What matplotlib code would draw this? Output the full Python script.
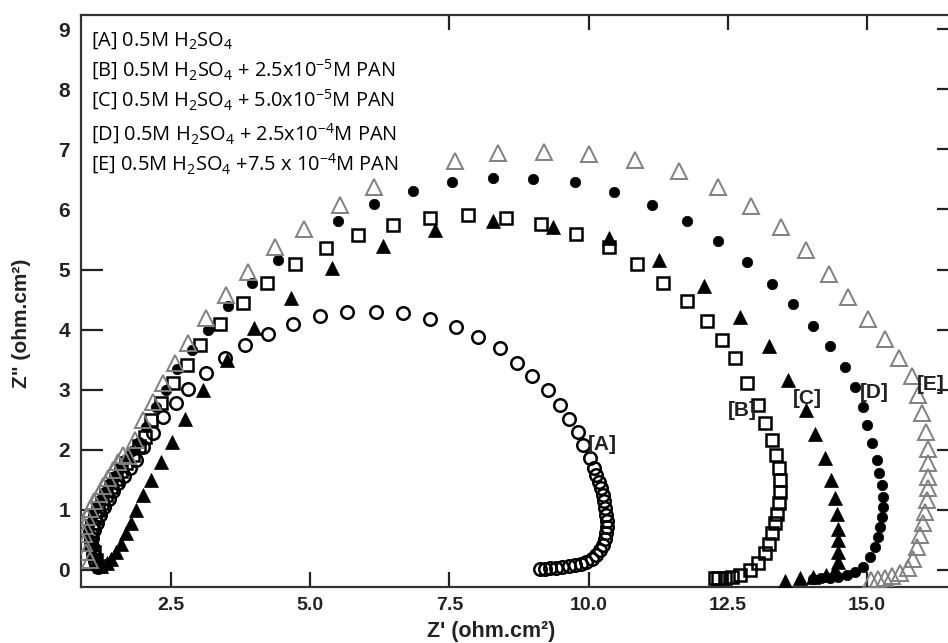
import matplotlib
matplotlib.use("Agg")
import matplotlib.pyplot as plt
from matplotlib.patches import Rectangle

plt.rcParams["mathtext.fontset"] = "custom"
plt.rcParams["mathtext.rm"] = "Open Sans"
plt.rcParams["mathtext.it"] = "Open Sans:italic"
plt.rcParams["mathtext.bf"] = "Open Sans:bold"

# Nyquist data, Z' (ohm.cm2) vs Z'' (ohm.cm2)
a_re = [1.19, 1.14, 1.10, 1.08, 1.09, 1.12, 1.17, 1.23, 1.30, 1.38, 1.46, 1.55, 1.65, 1.76,
        1.88, 2.00, 2.18, 2.36, 2.59, 2.81, 3.13, 3.47, 3.83, 4.25, 4.70, 5.18, 5.67, 6.18,
        6.67, 7.15, 7.62, 8.02, 8.40, 8.71, 8.99, 9.27, 9.49, 9.65, 9.80, 9.90, 10.02, 10.09,
        10.14, 10.18, 10.22, 10.25, 10.28, 10.30, 10.32, 10.33, 10.33, 10.32, 10.30, 10.26,
        10.21, 10.14, 10.06, 9.96, 9.86, 9.75, 9.64, 9.53, 9.42, 9.31, 9.21, 9.12]
a_im = [0.05, 0.15, 0.27, 0.40, 0.53, 0.66, 0.79, 0.92, 1.05, 1.18, 1.31, 1.44, 1.57, 1.70,
        1.83, 2.05, 2.28, 2.54, 2.78, 3.02, 3.28, 3.52, 3.74, 3.93, 4.09, 4.23, 4.30, 4.30,
        4.27, 4.17, 4.04, 3.87, 3.69, 3.44, 3.22, 3.00, 2.75, 2.52, 2.30, 2.08, 1.86, 1.70,
        1.58, 1.47, 1.36, 1.25, 1.14, 1.03, 0.92, 0.82, 0.72, 0.62, 0.52, 0.42,
        0.33, 0.25, 0.18, 0.13, 0.10, 0.08, 0.06, 0.05, 0.04, 0.03, 0.02, 0.01]

b_re = [1.22, 1.16, 1.11, 1.07, 1.06, 1.08, 1.13, 1.19, 1.26, 1.34, 1.42, 1.51, 1.60, 1.70,
        1.81, 1.92, 2.03, 2.15, 2.33, 2.54, 2.78, 3.02, 3.38, 3.80, 4.23, 4.73, 5.28, 5.86,
        6.49, 7.15, 7.84, 8.52, 9.14, 9.77, 10.37, 10.86, 11.34, 11.76, 12.12, 12.39, 12.63,
        12.84, 13.04, 13.17, 13.29, 13.37, 13.42, 13.43, 13.43, 13.42, 13.39, 13.35, 13.30,
        13.24, 13.17, 13.04, 12.90, 12.72, 12.58, 12.45, 12.33, 12.26]
b_im = [0.06, 0.17, 0.30, 0.44, 0.58, 0.72, 0.86, 0.99, 1.12, 1.25, 1.38, 1.51, 1.64, 1.78,
        1.92, 2.06, 2.22, 2.50, 2.78, 3.11, 3.41, 3.74, 4.09, 4.45, 4.77, 5.09, 5.35, 5.57,
        5.74, 5.85, 5.91, 5.85, 5.76, 5.59, 5.37, 5.09, 4.78, 4.48, 4.15, 3.82, 3.52,
        3.11, 2.75, 2.44, 2.16, 1.91, 1.69, 1.50, 1.30, 1.11, 0.94, 0.78, 0.61,
        0.44, 0.28, 0.11, 0.00, -0.08, -0.11, -0.13, -0.14, -0.14]

c_re = [1.25, 1.35, 1.43, 1.52, 1.61, 1.70, 1.79, 1.88, 2.00, 2.15, 2.33, 2.51, 2.75, 3.08,
        3.50, 3.99, 4.65, 5.40, 6.30, 7.24, 8.29, 9.36, 10.37, 11.27, 12.07, 12.72, 13.24,
        13.58, 13.90, 14.06, 14.24, 14.36, 14.42, 14.46, 14.48, 14.48, 14.48, 14.48, 14.42,
        14.27, 14.03, 13.80, 13.52]
c_im = [0.06, 0.11, 0.19, 0.30, 0.44, 0.61, 0.78, 1.00, 1.25, 1.50, 1.79, 2.13, 2.52, 3.00,
        3.49, 4.02, 4.52, 5.02, 5.39, 5.66, 5.80, 5.71, 5.52, 5.16, 4.73, 4.21, 3.72,
        3.16, 2.67, 2.27, 1.86, 1.50, 1.19, 0.94, 0.69, 0.50, 0.30, 0.14, 0.00,
        -0.08, -0.11, -0.14, -0.18]

d_re = [1.17, 1.12, 1.06, 1.02, 1.01, 1.04, 1.10, 1.17, 1.25, 1.33, 1.41, 1.50, 1.59, 1.69,
        1.80, 1.92, 2.06, 2.24, 2.42, 2.60, 2.87, 3.17, 3.53, 3.95, 4.43, 5.50, 6.15, 6.84,
        7.54, 8.29, 9.00, 9.75, 10.45, 11.13, 11.76, 12.33, 12.84, 13.29, 13.67, 14.03, 14.33,
        14.60, 14.78, 14.92, 14.99, 15.08, 15.17, 15.21, 15.26, 15.28, 15.28, 15.26, 15.23,
        15.20, 15.14, 15.05, 14.93, 14.78, 14.63, 14.48, 14.33, 14.18, 14.03]
d_im = [0.10, 0.22, 0.36, 0.50, 0.64, 0.78, 0.92, 1.05, 1.18, 1.31, 1.44, 1.57, 1.70, 1.84,
        1.98, 2.13, 2.38, 2.72, 3.00, 3.34, 3.66, 4.00, 4.39, 4.77, 5.16, 5.81, 6.09, 6.31,
        6.45, 6.53, 6.51, 6.45, 6.29, 6.07, 5.80, 5.48, 5.12, 4.76, 4.43, 4.06, 3.72,
        3.37, 3.05, 2.71, 2.41, 2.11, 1.83, 1.61, 1.41, 1.22, 1.05, 0.89, 0.72,
        0.55, 0.39, 0.22, 0.05, -0.03, -0.08, -0.11, -0.13, -0.14, -0.15]

e_re = [1.05, 0.98, 0.94, 0.93, 0.95, 0.99, 1.05, 1.12, 1.20, 1.28, 1.37, 1.46, 1.55, 1.64,
        1.73, 1.85, 2.00, 2.18, 2.36, 2.57, 2.81, 3.13, 3.49, 3.89, 4.37, 4.89, 5.53, 6.15,
        7.60, 8.38, 9.20, 10.01, 10.83, 11.63, 12.33, 12.91, 13.45, 13.91, 14.31, 14.66,
        15.02, 15.32, 15.57, 15.80, 15.92, 15.98, 16.06, 16.09, 16.10, 16.10, 16.09, 16.07,
        16.04, 16.00, 15.95, 15.89, 15.83, 15.74, 15.59, 15.45, 15.32, 15.19, 15.07]
e_im = [0.17, 0.30, 0.45, 0.60, 0.74, 0.88, 1.01, 1.14, 1.27, 1.40, 1.53, 1.66, 1.79, 1.92,
        1.89, 2.16, 2.50, 2.80, 3.11, 3.44, 3.78, 4.19, 4.58, 4.96, 5.37, 5.67, 6.08, 6.38,
        6.81, 6.94, 6.96, 6.93, 6.82, 6.64, 6.38, 6.06, 5.70, 5.32, 4.93, 4.55,
        4.17, 3.84, 3.52, 3.22, 2.91, 2.61, 2.30, 2.02, 1.78, 1.55, 1.36, 1.16,
        0.97, 0.78, 0.58, 0.39, 0.19, 0.03, -0.05, -0.10, -0.13, -0.15, -0.16]

legend_lines = [
    r"[A] 0.5M H$_2$SO$_4$",
    r"[B] 0.5M H$_2$SO$_4$ + 2.5x10$^{-5}$M PAN",
    r"[C] 0.5M H$_2$SO$_4$ + 5.0x10$^{-5}$M PAN",
    r"[D] 0.5M H$_2$SO$_4$ + 2.5x10$^{-4}$M PAN",
    r"[E] 0.5M H$_2$SO$_4$ +7.5 x 10$^{-4}$M PAN",
]
curve_tags = ["[A]", "[B]", "[C]", "[D]", "[E]"]
tag_pos = [(9.99, 2.08), (12.50, 2.66), (13.67, 2.86), (14.87, 2.96), (15.90, 3.08)]

x_ticks = [2.5, 5.0, 7.5, 10.0, 12.5, 15.0]
y_ticks = list(range(10))

fig = plt.figure(figsize=(9.48, 6.43), dpi=100)
ax = fig.add_axes([81 / 948, 56 / 643, 878 / 948, 572 / 643])

ax.plot(a_re, a_im, ls="none", marker="o", ms=9, mfc="none", mec="black", mew=1.8, zorder=3)
ax.plot(b_re, b_im, ls="none", marker="s", ms=8.3, mfc="none", mec="black", mew=1.8, zorder=3.1)
ax.plot(c_re, c_im, ls="none", marker="^", ms=10, mfc="black", mec="black", mew=0.5, zorder=3.2)
ax.plot(d_re, d_im, ls="none", marker="o", ms=7.5, mfc="black", mec="black", mew=0.5, zorder=3.3)
ax.plot(e_re, e_im, ls="none", marker="^", ms=11, mfc="none", mec="#808080", mew=1.4, zorder=3.4)

ax.set_xlim(0.885, 16.65)
ax.set_ylim(-0.283, 9.235)

ax.set_xticks(x_ticks)
ax.set_xticklabels([f"{v:.1f}" for v in x_ticks])
ax.set_yticks(y_ticks)
ax.set_yticklabels([str(v) for v in y_ticks])
ax.tick_params(axis="both", direction="in", top=True, right=True, width=1.6, color="#222222")
ax.tick_params(axis="x", length=11, pad=7, labelsize=14)
ax.tick_params(axis="y", length=16, pad=8, labelsize=15)
for lab in ax.get_xticklabels() + ax.get_yticklabels():
    lab.set_fontfamily("Liberation Sans")
    lab.set_fontweight("bold")
    lab.set_color("#222222")

for sp in ax.spines.values():
    sp.set_linewidth(1.6)
    sp.set_color("#333333")
    sp.set_zorder(2.7)

# white panel behind the legend text
ax.add_patch(Rectangle((0, 0.650), 0.392, 0.35, transform=ax.transAxes,
                       facecolor="white", edgecolor="none", zorder=2.6))

base_px = [46, 77, 107, 140, 170]
for line, py in zip(legend_lines, base_px):
    ax.text(10 / 878, (587 - py) / 572, line, transform=ax.transAxes,
            ha="left", va="baseline", fontsize=14.4, family="Open Sans",
            color="black", zorder=5)

for tag, (tx, ty) in zip(curve_tags, tag_pos):
    ax.text(tx, ty, tag, ha="left", va="center", fontsize=15,
            family="Liberation Sans", fontweight="bold", color="#222222", zorder=5)

fig.text(491 / 948, 1 - 632 / 643, "Z' (ohm.cm²)", ha="center", va="center",
         fontsize=15.5, family="Liberation Sans", fontweight="bold", color="#222222")
fig.text(22 / 948, 1 - 323 / 643, 'Z" (ohm.cm²)', ha="center", va="center",
         rotation=90, fontsize=15, family="Liberation Sans", fontweight="bold",
         color="#222222")

fig.savefig("out.png", dpi=100)
